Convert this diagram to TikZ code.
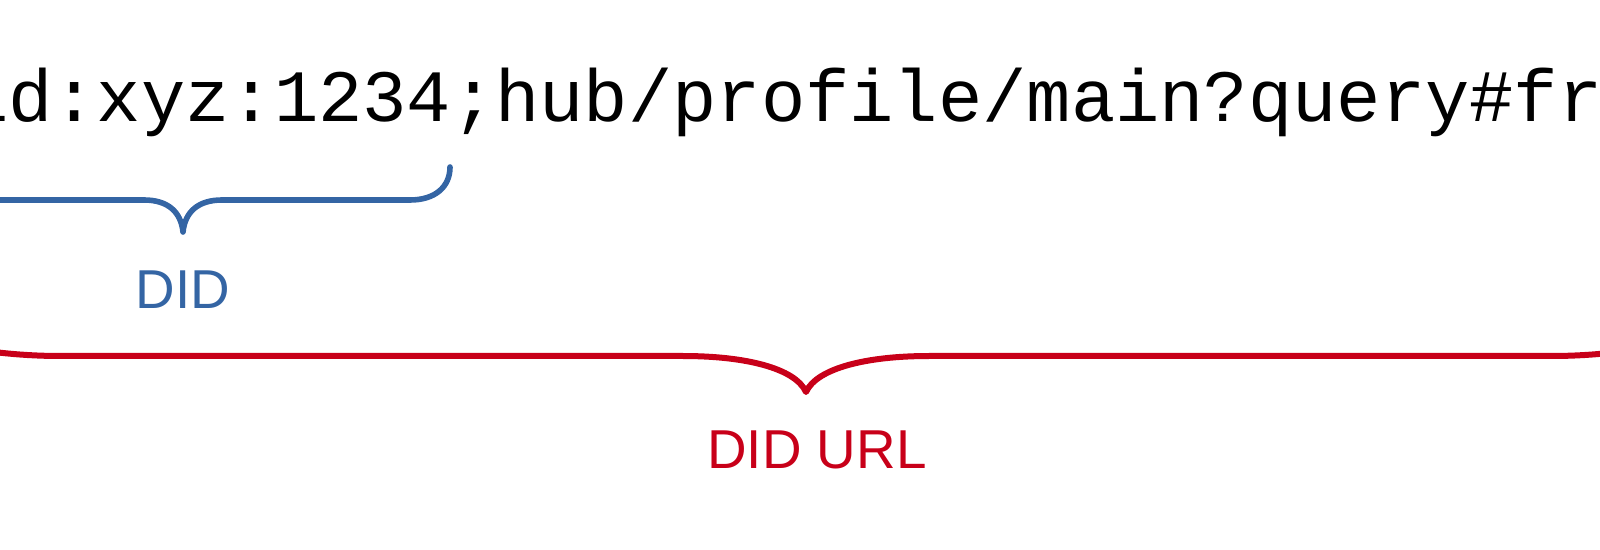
\documentclass[tikz,border=0pt]{standalone}
\usepackage{fontspec}
\setmainfont{Liberation Sans}
\newfontfamily\urlmono{Liberation Mono}
\definecolor{didblue}{HTML}{3465A4}
\definecolor{didred}{HTML}{C80019}
\begin{document}
\begin{tikzpicture}[x=0.5pt,y=-0.5pt,
  urltext/.style={inner sep=0pt,anchor=base west,font=\urlmono\fontsize{36.9pt}{40pt}\selectfont},
  lbl/.style={inner sep=0pt,anchor=base,font=\fontsize{27.4pt}{31pt}\selectfont},
  bracebl/.style={draw=didblue,line width=2.8pt,line cap=round,line join=round},
  bracerd/.style={draw=didred,line width=3pt,line cap=round,line join=round}]
\useasboundingbox (0,0) rectangle (1600,550);
\node[urltext] (url) at (-80.6,122) {did:xyz:1234;hub/profile/main?query\#fragment};
% DID brace
\coordinate (bL) at (-84,167);
\coordinate (bT) at (183,232);
\coordinate (bR) at (450,167);
\draw[bracebl] (bL) .. controls (-84,187) and (-69,200) .. (-44,200) -- (144,200)
  .. controls (168,200) and (181,212) .. (bT)
  .. controls (185,212) and (198,200) .. (222,200) -- (410,200)
  .. controls (435,200) and (450,187) .. (bR);
\node[lbl,text=didblue] (did) at (183,309) {DID};
% DID URL brace
\coordinate (rL) at (-84,320);
\coordinate (rT) at (806,392);
\coordinate (rR) at (1696,320);
\draw[bracerd] (rL) .. controls (-84,345) and (0,356) .. (60,356) -- (683,356)
  .. controls (745,356) and (795,368) .. (rT)
  .. controls (817,368) and (867,356) .. (929,356) -- (1552,356)
  .. controls (1612,356) and (1696,345) .. (rR);
\node[lbl,text=didred] (didurl) at (817,468) {DID URL};
\end{tikzpicture}
\end{document}
